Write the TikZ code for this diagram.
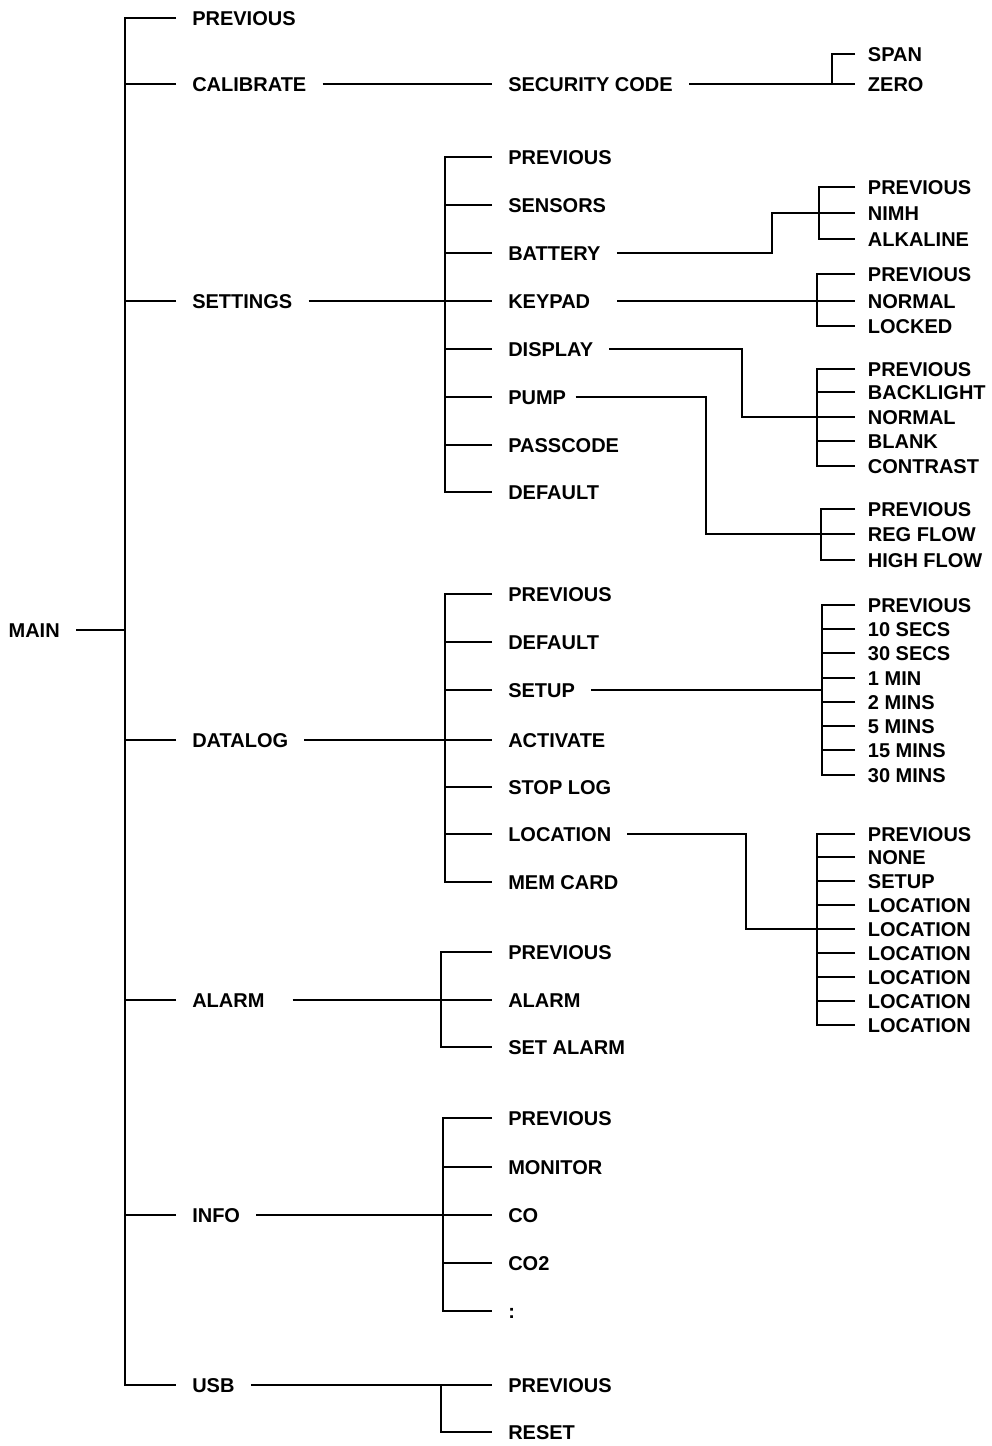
\documentclass[tikz,border=0pt]{standalone}
\usepackage{fontspec}
\setmainfont{Liberation Sans}

\begin{document}
\begin{tikzpicture}[
        x=0.75pt, y=-0.75pt,
        item/.style={anchor=west, font=\bfseries\fontsize{15pt}{18pt}\selectfont, inner xsep=12pt, inner ysep=0pt, text height=10.7pt, text depth=0pt},
        leaf/.style={item, inner xsep=9.5pt},
        link/.style={line width=1.2pt}
    ]
    \useasboundingbox (0,0) rectangle (992,1446);

    % Bus positions
    \coordinate (xmain) at (125,0);
    \coordinate (xcal) at (832,0);
    \coordinate (xset) at (445,0);
    \coordinate (kbat) at (772,0); \coordinate (xbat) at (819,0);
    \coordinate (xkey) at (817,0);
    \coordinate (kdis) at (742,0); \coordinate (xdis) at (817,0);
    \coordinate (kpump) at (706,0); \coordinate (xpump) at (821,0);
    \coordinate (xlog) at (445,0);
    \coordinate (xsetup) at (822,0);
    \coordinate (kloc) at (746,0); \coordinate (xloc) at (817,0);
    \coordinate (xalarm) at (441,0);
    \coordinate (xinfo) at (443,0);
    \coordinate (xusb) at (441,0);

    % Main menu
    \node[item, anchor=east] (main) at (76,630) {MAIN};
    \node[item] (prev) at (176,18) {PREVIOUS};
    \node[item] (calib) at (176,84) {CALIBRATE};
    \node[item] (settings) at (176,301) {SETTINGS};
    \node[item] (datalog) at (176,740) {DATALOG};
    \node[item] (alarm) at (176,1000) {ALARM};
    \node[item] (info) at (176,1215) {INFO};
    \node[item] (usb) at (176,1385) {USB};

    % Calibrate
    \node[item] (seccode) at (492,84) {SECURITY CODE};
    \node[leaf] (span) at (855,54) {SPAN};
    \node[leaf] (zero) at (855,84) {ZERO};

    % Settings
    \node[item] (sprev) at (492,157) {PREVIOUS};
    \node[item] (sensors) at (492,205) {SENSORS};
    \node[item] (battery) at (492,253) {BATTERY};
    \node[item] (keypad) at (492,301) {KEYPAD};
    \node[item] (display) at (492,349) {DISPLAY};
    \node[item] (pump) at (492,397) {PUMP};
    \node[item] (passcode) at (492,445) {PASSCODE};
    \node[item] (sdefault) at (492,492) {DEFAULT};

    \node[leaf] (bprev) at (855,187) {PREVIOUS};
    \node[leaf] (nimh) at (855,213) {NIMH};
    \node[leaf] (alkaline) at (855,239) {ALKALINE};

    \node[leaf] (kprev) at (855,274) {PREVIOUS};
    \node[leaf] (knormal) at (855,301) {NORMAL};
    \node[leaf] (locked) at (855,326) {LOCKED};

    \node[leaf] (dprev) at (855,369) {PREVIOUS};
    \node[leaf] (backlight) at (855,392) {BACKLIGHT};
    \node[leaf] (dnormal) at (855,417) {NORMAL};
    \node[leaf] (blank) at (855,441) {BLANK};
    \node[leaf] (contrast) at (855,466) {CONTRAST};

    \node[leaf] (pprev) at (855,509) {PREVIOUS};
    \node[leaf] (regflow) at (855,534) {REG FLOW};
    \node[leaf] (highflow) at (855,560) {HIGH FLOW};

    % Datalog
    \node[item] (lprev) at (492,594) {PREVIOUS};
    \node[item] (ldefault) at (492,642) {DEFAULT};
    \node[item] (setup) at (492,690) {SETUP};
    \node[item] (activate) at (492,740) {ACTIVATE};
    \node[item] (stoplog) at (492,787) {STOP LOG};
    \node[item] (location) at (492,834) {LOCATION};
    \node[item] (memcard) at (492,882) {MEM CARD};

    \node[leaf] (tprev) at (855,605) {PREVIOUS};
    \node[leaf] (tsa) at (855,629) {10 SECS};
    \node[leaf] (tsb) at (855,653) {30 SECS};
    \node[leaf] (tma) at (855,678) {1 MIN};
    \node[leaf] (tmb) at (855,702) {2 MINS};
    \node[leaf] (tmc) at (855,726) {5 MINS};
    \node[leaf] (tmd) at (855,750) {15 MINS};
    \node[leaf] (tme) at (855,775) {30 MINS};

    \node[leaf] (oprev) at (855,834) {PREVIOUS};
    \node[leaf] (none) at (855,857) {NONE};
    \node[leaf] (osetup) at (855,881) {SETUP};
    \node[leaf] (loca) at (855,905) {LOCATION};
    \node[leaf] (locb) at (855,929) {LOCATION};
    \node[leaf] (locc) at (855,953) {LOCATION};
    \node[leaf] (locd) at (855,977) {LOCATION};
    \node[leaf] (loce) at (855,1001) {LOCATION};
    \node[leaf] (locf) at (855,1025) {LOCATION};

    % Alarm, Info, USB
    \node[item] (aprev) at (492,952) {PREVIOUS};
    \node[item] (aalarm) at (492,1000) {ALARM};
    \node[item] (setalarm) at (492,1047) {SET ALARM};

    \node[item] (iprev) at (492,1118) {PREVIOUS};
    \node[item] (monitor) at (492,1167) {MONITOR};
    \node[item] (co) at (492,1215) {CO};
    \node[item] (cotwo) at (492,1263) {CO2};
    \node[item] (dots) at (492,1311) {:};

    \node[item] (uprev) at (492,1385) {PREVIOUS};
    \node[item] (reset) at (492,1432) {RESET};

    % Connections: main
    \draw[link] (main.east) -- (main.east -| xmain);
    \draw[link] (prev.west) -| (xmain |- usb.west) -- (usb.west);
    \draw[link] (calib.west) -- (calib.west -| xmain); \draw[link] (settings.west) -- (settings.west -| xmain);
    \draw[link] (datalog.west) -- (datalog.west -| xmain); \draw[link] (alarm.west) -- (alarm.west -| xmain);
    \draw[link] (info.west) -- (info.west -| xmain);

    % Connections: calibrate
    \draw[link] (calib.east) -- (seccode.west);
    \draw[link] (seccode.east) -- (zero.west);
    \draw[link] (span.west) -| (xcal |- zero.west);

    % Connections: settings
    \draw[link] (settings.east) -- (keypad.west);
    \draw[link] (sprev.west) -| (xset |- sdefault.west) -- (sdefault.west);
    \draw[link] (sensors.west) -- (sensors.west -| xset); \draw[link] (battery.west) -- (battery.west -| xset);
    \draw[link] (display.west) -- (display.west -| xset); \draw[link] (pump.west) -- (pump.west -| xset);
    \draw[link] (passcode.west) -- (passcode.west -| xset);

    \draw[link] (battery.east) -| (kbat |- nimh.west) -- (nimh.west);
    \draw[link] (bprev.west) -| (xbat |- alkaline.west) -- (alkaline.west);

    \draw[link, shorten <=8pt] (keypad.east) -- (knormal.west);
    \draw[link] (kprev.west) -| (xkey |- locked.west) -- (locked.west);

    \draw[link] (display.east) -| (kdis |- dnormal.west) -- (dnormal.west);
    \draw[link] (dprev.west) -| (xdis |- contrast.west) -- (contrast.west);
    \draw[link] (backlight.west) -- (backlight.west -| xdis); \draw[link] (blank.west) -- (blank.west -| xdis);

    \draw[link, shorten <=-5pt] (pump.east) -| (kpump |- regflow.west) -- (regflow.west);
    \draw[link] (pprev.west) -| (xpump |- highflow.west) -- (highflow.west);

    % Connections: datalog
    \draw[link] (datalog.east) -- (activate.west);
    \draw[link] (lprev.west) -| (xlog |- memcard.west) -- (memcard.west);
    \draw[link] (ldefault.west) -- (ldefault.west -| xlog); \draw[link] (setup.west) -- (setup.west -| xlog);
    \draw[link] (stoplog.west) -- (stoplog.west -| xlog); \draw[link] (location.west) -- (location.west -| xlog);

    \draw[link] (setup.east) -- (setup.east -| xsetup);
    \draw[link] (tprev.west) -| (xsetup |- tme.west) -- (tme.west);
    \draw[link] (tsa.west) -- (tsa.west -| xsetup); \draw[link] (tsb.west) -- (tsb.west -| xsetup);
    \draw[link] (tma.west) -- (tma.west -| xsetup); \draw[link] (tmb.west) -- (tmb.west -| xsetup);
    \draw[link] (tmc.west) -- (tmc.west -| xsetup); \draw[link] (tmd.west) -- (tmd.west -| xsetup);

    \draw[link] (location.east) -| (kloc |- locb.west) -- (locb.west);
    \draw[link] (oprev.west) -| (xloc |- locf.west) -- (locf.west);
    \draw[link] (none.west) -- (none.west -| xloc); \draw[link] (osetup.west) -- (osetup.west -| xloc);
    \draw[link] (loca.west) -- (loca.west -| xloc); \draw[link] (locc.west) -- (locc.west -| xloc);
    \draw[link] (locd.west) -- (locd.west -| xloc); \draw[link] (loce.west) -- (loce.west -| xloc);

    % Connections: alarm, info, usb
    \draw[link, shorten <=9pt] (alarm.east) -- (aalarm.west);
    \draw[link] (aprev.west) -| (xalarm |- setalarm.west) -- (setalarm.west);

    \draw[link] (info.east) -- (co.west);
    \draw[link] (iprev.west) -| (xinfo |- dots.west) -- (dots.west);
    \draw[link] (monitor.west) -- (monitor.west -| xinfo); \draw[link] (cotwo.west) -- (cotwo.west -| xinfo);

    \draw[link] (usb.east) -- (uprev.west);
    \draw[link] (uprev.west -| xusb) |- (reset.west);
\end{tikzpicture}
\end{document}
